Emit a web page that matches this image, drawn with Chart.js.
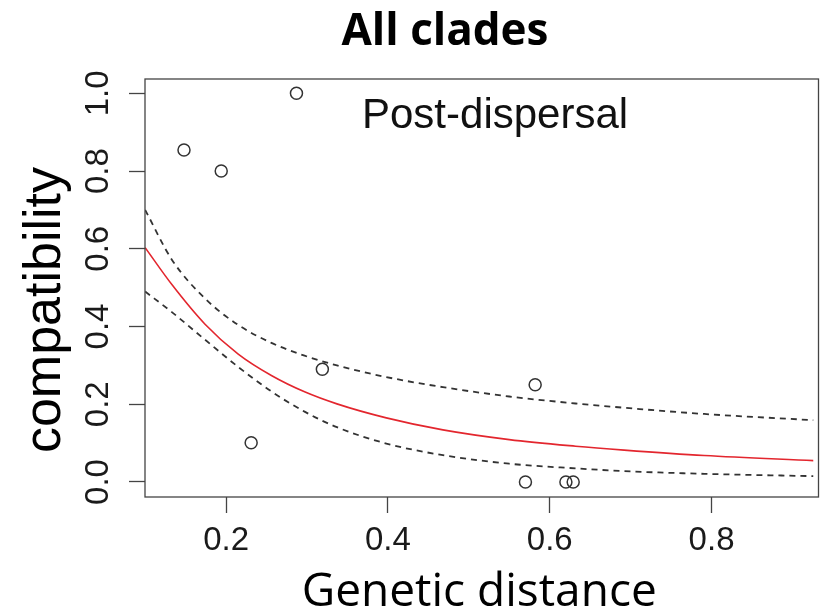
<!DOCTYPE html>
<html><head><meta charset="utf-8">
<script src="https://cdn.jsdelivr.net/npm/chart.js@4"></script>
<style>html,body{margin:0;padding:0;background:#fff}canvas{display:block}</style>
</head><body>
<canvas id="c" width="821" height="614"></canvas>
<script>
// ---- data ----
const pointX = [0.148, 0.194, 0.287, 0.231, 0.319, 0.582, 0.570, 0.620, 0.629];
const pointY = [0.854, 0.800, 1.000, 0.101, 0.290, 0.250, 0.000, 0.000, 0.000];

const fitX     = [0.100, 0.133, 0.174, 0.215, 0.256, 0.297, 0.337, 0.398, 0.468, 0.550, 0.632, 0.692, 0.791, 0.926];
const fitMid   = [0.603, 0.508, 0.406, 0.329, 0.274, 0.232, 0.201, 0.165, 0.134, 0.109, 0.092, 0.082, 0.068, 0.055];
const fitUpper = [0.700, 0.572, 0.472, 0.404, 0.358, 0.325, 0.300, 0.270, 0.244, 0.220, 0.202, 0.191, 0.175, 0.159];
const fitLower = [0.490, 0.437, 0.366, 0.296, 0.233, 0.181, 0.141, 0.099, 0.069, 0.047, 0.035, 0.028, 0.021, 0.015];

const xTicks = [0.2, 0.4, 0.6, 0.8];
const xTickLabels = ['0.2', '0.4', '0.6', '0.8'];
const yTicks = [0.0, 0.2, 0.4, 0.6, 0.8, 1.0];
const yTickLabels = ['0.0', '0.2', '0.4', '0.6', '0.8', '1.0'];

const chartTitle = 'All clades';
const panelLabel = 'Post-dispersal';
const xTitle = 'Genetic distance';
const yTitle = 'compatibility';

function pairs(xs, ys) { return xs.map((x, i) => ({ x: x, y: ys[i] })); }

const AXIS = '#444';

const textPlugin = {
  id: 'texts',
  afterDraw(chart) {
    const ctx = chart.ctx;
    const a = chart.chartArea;
    const ys = chart.scales.y;
    ctx.save();
    // box
    ctx.strokeStyle = AXIS;
    ctx.lineWidth = 1.3;
    ctx.strokeRect(a.left, a.top, a.right - a.left + 5, a.bottom - a.top);
    // y tick labels (rotated like R)
    ctx.fillStyle = '#1a1a1a';
    ctx.font = '33px "Liberation Sans", Arial, sans-serif';
    ctx.textAlign = 'center';
    ctx.textBaseline = 'alphabetic';
    yTicks.forEach((v, i) => {
      const py = ys.getPixelForValue(v);
      ctx.save();
      ctx.translate(a.left - 37, py);
      ctx.rotate(-Math.PI / 2);
      ctx.fillText(yTickLabels[i], 0, 0);
      ctx.restore();
    });
    // y title
    ctx.fillStyle = '#000';
    ctx.font = '52px "Liberation Sans", Arial, sans-serif';
    ctx.save();
    ctx.translate(a.left - 85, 310);
    ctx.rotate(-Math.PI / 2);
    ctx.fillText(yTitle, 0, 0);
    ctx.restore();
    // panel label
    ctx.font = '42px "Liberation Sans", Arial, sans-serif';
    ctx.textAlign = 'left';
    ctx.fillStyle = '#111';
    ctx.fillText(panelLabel, a.left + 217, a.top + 49);
    // x title
    ctx.fillStyle = '#000';
    ctx.textAlign = 'center';
    ctx.font = '46px "Open Sans", sans-serif';
    ctx.fillText(xTitle, (a.left + a.right) / 2, 606);
    // chart title
    ctx.font = 'bold 44px "Open Sans", sans-serif';
    ctx.fillText(chartTitle, 445, 45);
    ctx.restore();
  }
};

new Chart(document.getElementById('c'), {
  type: 'scatter',
  data: {
    datasets: [
      { data: pairs(fitX, fitUpper), showLine: true, borderColor: '#333', borderWidth: 1.8,
        borderDash: [6, 5], pointRadius: 0, cubicInterpolationMode: 'monotone', fill: false },
      { data: pairs(fitX, fitLower), showLine: true, borderColor: '#333', borderWidth: 1.8,
        borderDash: [6, 5], pointRadius: 0, cubicInterpolationMode: 'monotone', fill: false },
      { data: pairs(fitX, fitMid), showLine: true, borderColor: '#e3262e', borderWidth: 1.6,
        pointRadius: 0, cubicInterpolationMode: 'monotone', fill: false },
      { data: pairs(pointX, pointY), showLine: false, pointRadius: 6, pointBorderWidth: 1.5,
        pointBorderColor: '#333', pointBackgroundColor: 'rgba(0,0,0,0)' }
    ]
  },
  options: {
    responsive: false,
    animation: false,
    devicePixelRatio: 1,
    layout: { padding: { top: 79, left: 0, right: 0, bottom: 0 } },
    plugins: { legend: { display: false }, tooltip: { enabled: false }, title: { display: false } },
    scales: {
      x: {
        type: 'linear', min: 0.0998, max: 0.926,
        afterBuildTicks: s => { s.ticks = xTicks.map(v => ({ value: v })); },
        afterFit: s => { s.height = 117; },
        border: { display: false },
        grid: { drawOnChartArea: false, drawTicks: true, tickLength: 16, tickColor: AXIS, tickWidth: 1.3 },
        ticks: {
          padding: 8, color: '#1a1a1a', maxRotation: 0, autoSkip: false,
          font: { family: '"Liberation Sans", Arial, sans-serif', size: 33 },
          callback: (v) => { const i = xTicks.indexOf(v); return i >= 0 ? xTickLabels[i] : ''; }
        }
      },
      y: {
        type: 'linear', min: -0.0386, max: 1.0368,
        afterBuildTicks: s => { s.ticks = yTicks.map(v => ({ value: v })); },
        afterFit: s => { s.width = 145; },
        border: { display: false },
        grid: { drawOnChartArea: false, drawTicks: true, tickLength: 16, tickColor: AXIS, tickWidth: 1.3 },
        ticks: { display: false }
      }
    }
  },
  plugins: [textPlugin]
});
</script>
</body></html>
